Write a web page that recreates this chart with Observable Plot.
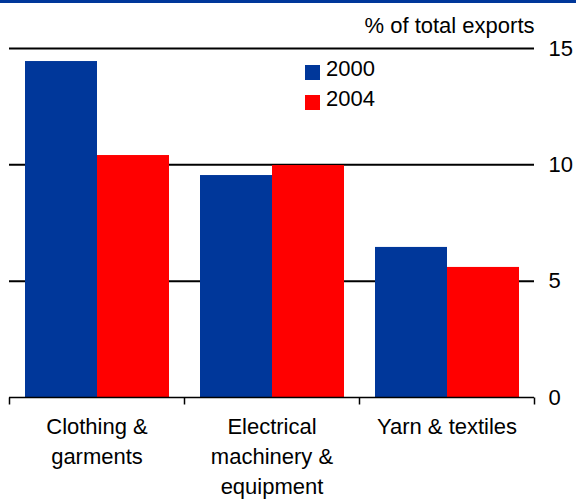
<!DOCTYPE html>
<html>
<head>
<meta charset="utf-8">
<script src="https://cdn.jsdelivr.net/npm/d3@7"></script>
<script src="https://cdn.jsdelivr.net/npm/@observablehq/plot@0.6"></script>
<style>
  html, body { margin: 0; padding: 0; background: #fff; }
  #wrap { position: relative; width: 576px; height: 499px; overflow: hidden; font-family: "Liberation Sans", Arial, sans-serif; }
  #topbar { position: absolute; left: 0; top: 0; width: 576px; height: 3px; }
  #legend { position: absolute; left: 305px; top: 54px; font-size: 22px; line-height: 30px; color: #000; }
  #legend .row { display: flex; align-items: center; height: 30px; }
  #legend .sw { width: 15px; height: 15px; margin-right: 6px; position: relative; top: 3px; }
</style>
</head>
<body>
<div id="wrap"><div id="topbar"></div></div>
<script>
const categories = ["Clothing & garments", "Electrical machinery & equipment", "Yarn & textiles"];
const tickLabels = ["Clothing &\ngarments", "Electrical\nmachinery &\nequipment", "Yarn & textiles"];
const years = ["2000", "2004"];
const values2000 = [14.44, 9.54, 6.45];
const values2004 = [10.40, 9.97, 5.59];
const yTicks = [0, 5, 10, 15];
const gridValues = [5, 10, 15];
const yLabel = "% of total exports";
const colors = ["#00379a", "#ff0000"];

const data = [];
categories.forEach((c, i) => {
  data.push({category: c, year: years[0], value: values2000[i]});
  data.push({category: c, year: years[1], value: values2004[i]});
});

const tickSymbol = { draw(ctx) { ctx.moveTo(0, 0); ctx.lineTo(0, 7); } };

const plot = Plot.plot({
  width: 576,
  height: 499,
  marginTop: 48,
  marginBottom: 102,
  marginLeft: 9,
  marginRight: 42,
  style: { fontFamily: "'Liberation Sans', Arial, sans-serif", fontSize: "22px", color: "#000", background: "transparent" },
  fx: { domain: categories, padding: 0, label: null },
  x: { domain: years, paddingInner: 0, paddingOuter: 0.215, axis: null },
  y: { domain: [0, 15], label: null },
  color: { domain: years, range: colors },
  marks: [
    Plot.ruleY(gridValues, { stroke: "#000", strokeWidth: 2 }),
    Plot.barY(data, { fx: "category", x: "year", y: "value", fill: "year" }),
    Plot.ruleY([0], { stroke: "#000", strokeWidth: 1.5 }),
    Plot.dot(categories, { fx: d => d, frameAnchor: "bottom-left", symbol: tickSymbol, stroke: "#000", strokeWidth: 1.5, fill: "none" }),
    Plot.dot([categories[categories.length - 1]], { fx: d => d, frameAnchor: "bottom-right", symbol: tickSymbol, stroke: "#000", strokeWidth: 1.5, fill: "none" }),
    Plot.axisY({ anchor: "right", ticks: yTicks, tickSize: 0, tickPadding: 14, fontSize: 22, label: null }),
    Plot.axisFx({ anchor: "bottom", tickSize: 0, tickPadding: 15, fontSize: 22, lineHeight: 1.364, label: null,
      tickFormat: d => tickLabels[categories.indexOf(d)] }),
    Plot.text([yLabel], { fx: () => categories[categories.length - 1], text: d => d, frameAnchor: "top-right",
      textAnchor: "end", lineAnchor: "middle", dy: -23, fontSize: 22, fill: "#000" })
  ]
});

const wrap = document.getElementById("wrap");
wrap.appendChild(plot);
plot.style.position = "absolute";
plot.style.left = "0";
plot.style.top = "0";

const colorScale = plot.scale("color");
document.getElementById("topbar").style.background = colors[0];

const legend = document.createElement("div");
legend.id = "legend";
years.forEach(y => {
  const row = document.createElement("div");
  row.className = "row";
  const sw = document.createElement("span");
  sw.className = "sw";
  sw.style.background = colorScale.apply(y);
  row.appendChild(sw);
  row.appendChild(document.createTextNode(y));
  legend.appendChild(row);
});
wrap.appendChild(legend);
</script>
</body>
</html>
